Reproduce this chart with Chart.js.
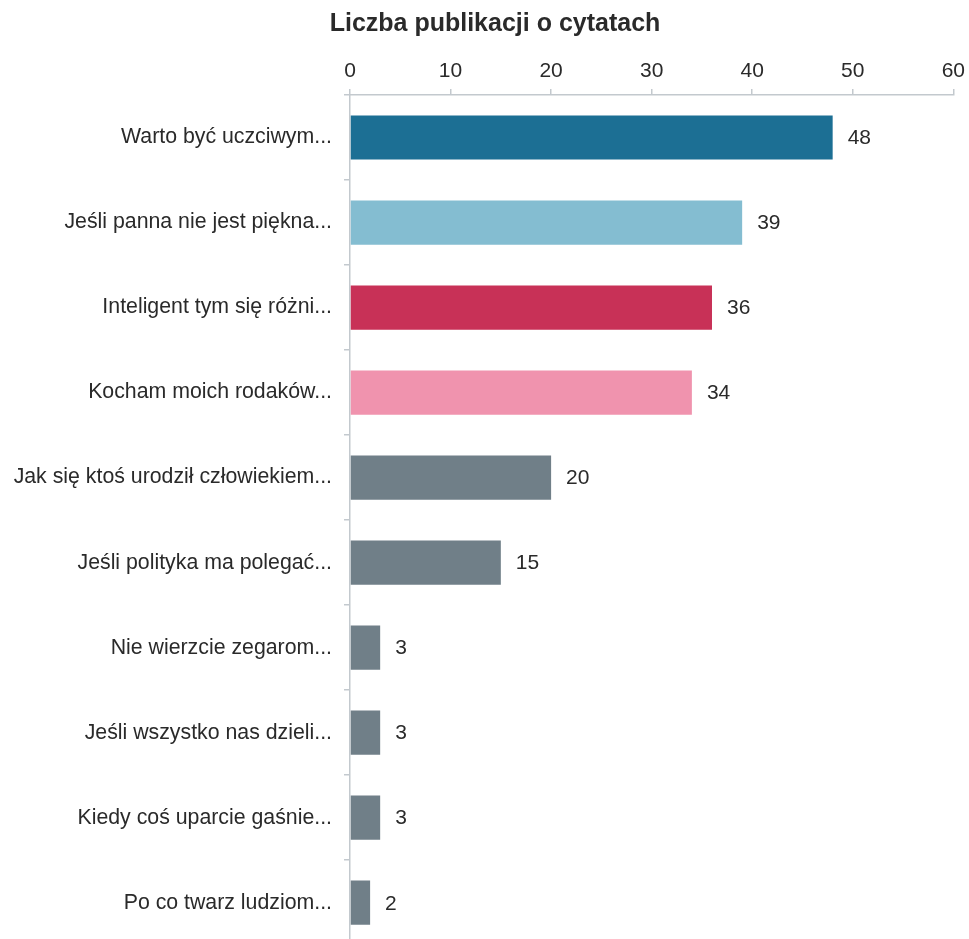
<!DOCTYPE html>
<html>
<head>
<meta charset="utf-8">
<script src="https://cdn.jsdelivr.net/npm/chart.js@4/dist/chart.umd.min.js"></script>
<style>
  html, body { margin: 0; padding: 0; background: #ffffff; overflow: hidden; }
  #wrap { width: 970px; height: 970px; }
</style>
</head>
<body>
<div id="wrap"><canvas id="c" width="970" height="970"></canvas></div>
<script>
// Number of publications per quotation
const chartTitle = 'Liczba publikacji o cytatach';
const quotes = [
  'Warto być uczciwym...',
  'Jeśli panna nie jest piękna...',
  'Inteligent tym się różni...',
  'Kocham moich rodaków...',
  'Jak się ktoś urodził człowiekiem...',
  'Jeśli polityka ma polegać...',
  'Nie wierzcie zegarom...',
  'Jeśli wszystko nas dzieli...',
  'Kiedy coś uparcie gaśnie...',
  'Po co twarz ludziom...'
];
const publications = [48, 39, 36, 34, 20, 15, 3, 3, 3, 2];
const barColors = [
  '#1c6f94', '#84bdd1', '#c83157', '#f093ae',
  '#707f88', '#707f88', '#707f88', '#707f88', '#707f88', '#707f88'
];

const FONT = '"Liberation Sans", Arial, sans-serif';
const TEXT = '#2a2a2a';
const AXIS = '#c3c9ce';

// Title and value labels
const annotate = {
  id: 'annotate',
  afterDatasetsDraw(chart) {
    const ctx = chart.ctx;
    ctx.save();
    ctx.fillStyle = TEXT;
    ctx.font = 'bold 25px ' + FONT;
    ctx.textAlign = 'center';
    ctx.textBaseline = 'middle';
    ctx.fillText(chartTitle, 495, 24);

    ctx.font = '21px ' + FONT;
    ctx.textAlign = 'left';
    const meta = chart.getDatasetMeta(0);
    meta.data.forEach((bar, i) => {
      ctx.fillText(String(publications[i]), bar.x + 15, bar.y + 1);
    });
    ctx.restore();
  }
};

new Chart(document.getElementById('c'), {
  type: 'bar',
  data: {
    labels: quotes,
    datasets: [{
      data: publications,
      backgroundColor: barColors,
      borderWidth: 0,
      categoryPercentage: 1,
      barPercentage: 0.52
    }]
  },
  options: {
    indexAxis: 'y',
    responsive: false,
    animation: false,
    layout: { padding: { top: 0, right: 14, bottom: 5, left: 0 } },
    plugins: {
      legend: { display: false },
      title: { display: false },
      tooltip: { enabled: false }
    },
    scales: {
      x: {
        position: 'top',
        min: 0,
        max: 60,
        ticks: {
          stepSize: 10,
          color: TEXT,
          font: { family: FONT, size: 21 },
          padding: 5
        },
        grid: {
          drawOnChartArea: false,
          drawTicks: true,
          tickLength: 6,
          color: AXIS,
          lineWidth: 1.5
        },
        border: { display: true, color: AXIS, width: 1.5 },
        afterFit(scale) { scale.height = 95; }
      },
      y: {
        ticks: {
          color: TEXT,
          font: { family: FONT, size: 21.3 },
          padding: 12
        },
        grid: {
          drawOnChartArea: false,
          drawTicks: true,
          tickLength: 6,
          offset: true,
          color: AXIS,
          lineWidth: 1.5
        },
        border: { display: true, color: AXIS, width: 1.5 },
        afterFit(scale) { scale.width = 350; }
      }
    }
  },
  plugins: [annotate]
});
</script>
</body>
</html>
